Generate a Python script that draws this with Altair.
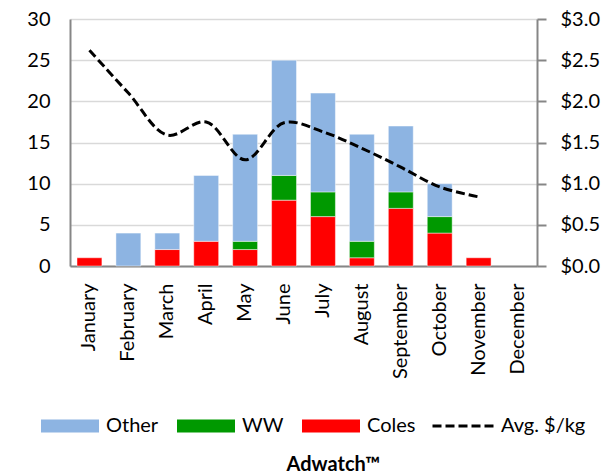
import altair as alt
import pandas as pd

months = ["January", "February", "March", "April", "May", "June", "July",
          "August", "September", "October", "November", "December"]
coles = [1, 0, 2, 3, 2, 8, 6, 1, 7, 4, 1, 0]
ww = [0, 0, 0, 0, 1, 3, 3, 2, 2, 2, 0, 0]
other = [0, 4, 2, 8, 13, 14, 12, 13, 8, 4, 0, 0]
avg_price = [2.62, 2.10, 1.59, 1.75, 1.29, 1.74, 1.63, 1.43, 1.20, 0.96, 0.84]
series = ["Other", "WW", "Coles"]
colors = ["#8DB4E2", "#009900", "#FF0000"]
line_name = "Avg. $/kg"

rows = []
for i, m in enumerate(months):
    for name, vals, rank in (("Coles", coles, 0), ("WW", ww, 1), ("Other", other, 2)):
        rows.append({"month": m, "series": name, "value": vals[i], "rank": rank})
bar_df = pd.DataFrame(rows)
line_df = pd.DataFrame({"month": months[:len(avg_price)], "price": avg_price,
                        "series": line_name})

FONT = "Lato"
AXIS_GRAY = "#868686"

x_enc = alt.X(
    "month:N", sort=months,
    scale=alt.Scale(domain=months, paddingInner=0.36, paddingOuter=0.18),
    axis=alt.Axis(labelAngle=-90, ticks=False, domainColor=AXIS_GRAY, domainWidth=2,
                  labelFontSize=20, labelPadding=17, labelColor="#000000",
                  title="Adwatch\u2122", titleFontSize=20, titleFontWeight="bold",
                  titleX=263, titleY=204, titleAlign="center", titleBaseline="alphabetic",
                  titleColor="#000000"),
)

rect_path = "M-1,-0.224H1V0.224H-1Z"

bars = alt.Chart(bar_df).transform_filter("datum.value > 0").mark_bar(
    stroke="#FFFFFF", strokeWidth=1, strokeOpacity=0.45).encode(
    x=x_enc,
    y=alt.Y("value:Q", stack="zero",
            scale=alt.Scale(domain=[0, 30], nice=False),
            axis=alt.Axis(values=[0, 5, 10, 15, 20, 25, 30], grid=True, gridColor="#D9D9D9",
                          gridWidth=1.5, domainColor=AXIS_GRAY, domainWidth=2, ticks=False,
                          labelFontSize=20, labelPadding=20, labelColor="#000000", title=None)),
    color=alt.Color("series:N", scale=alt.Scale(domain=series, range=colors),
                    legend=alt.Legend(orient="none", legendX=-29, legendY=378,
                                      direction="horizontal", title=None,
                                      symbolType=rect_path, symbolSize=3364,
                                      symbolStrokeWidth=0, symbolOpacity=1,
                                      labelFontSize=20, labelFont=FONT, labelColor="#000000",
                                      labelOffset=7, columnPadding=18)),
    order=alt.Order("rank:Q", sort="ascending"),
)

line = alt.Chart(line_df).mark_line(color="black", strokeWidth=3,
                                     interpolate="catmull-rom").encode(
    x=x_enc,
    y=alt.Y("price:Q", scale=alt.Scale(domain=[0, 3], nice=False),
            axis=alt.Axis(orient="right", values=[0, 0.5, 1, 1.5, 2, 2.5, 3], format="$.1f",
                          grid=False, tickSize=9, tickColor=AXIS_GRAY, tickWidth=2,
                          domainColor=AXIS_GRAY, domainWidth=2, labelFontSize=20,
                          labelPadding=14, labelColor="#000000", title=None)),
    strokeDash=alt.StrokeDash("series:N",
                              scale=alt.Scale(domain=[line_name], range=[[9, 4]]),
                              legend=alt.Legend(orient="none", legendX=361, legendY=375,
                                                title=None, symbolType="stroke",
                                                symbolSize=3721, symbolStrokeWidth=3,
                                                symbolStrokeColor="black",
                                                labelFontSize=20, labelFont=FONT,
                                                labelColor="#000000", labelOffset=6)),
)

chart = alt.layer(bars, line).resolve_scale(y="independent").properties(
    width=467, height=247,
    autosize=alt.AutoSizeParams(type="none"),
    padding={"left": 70, "top": 19, "right": 65, "bottom": 209},
).configure(font=FONT).configure_axis(labelFont=FONT, titleFont=FONT).configure_view(stroke=None)

chart.save("out.html", embed_options={"renderer": "svg", "actions": False})
